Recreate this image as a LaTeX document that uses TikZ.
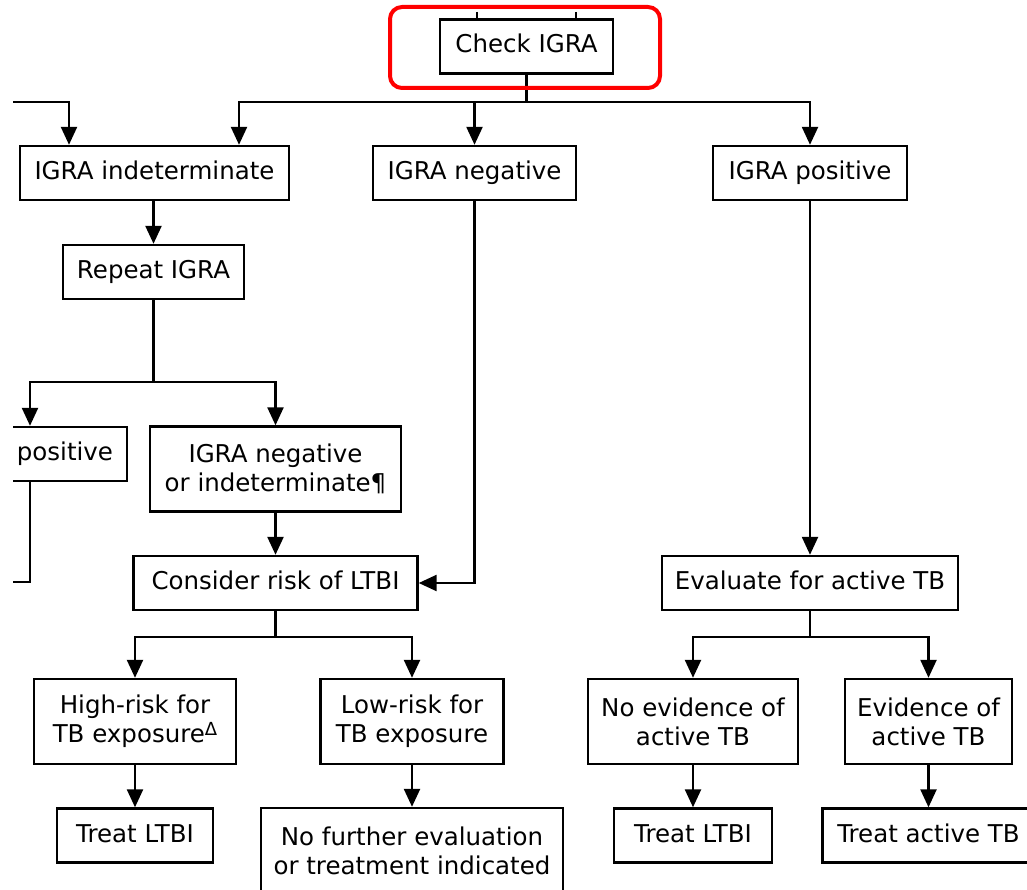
\documentclass[tikz,border=0pt]{standalone}
\usepackage{fontspec}
\setmainfont{DejaVu Sans}
\usetikzlibrary{arrows.meta}

\begin{document}
\begin{tikzpicture}[x=1pt, y=-1pt, line width=2.4pt,
    font=\fontsize{24.5}{29}\selectfont,
    >={Triangle[length=18pt, width=16pt]},
    box/.style={draw, fill=white, inner sep=0pt, minimum height=54pt,
      text height=18pt, text depth=5pt},
    tallbox/.style={draw, fill=white, inner sep=0pt, minimum height=85pt,
      align=center}]
  \useasboundingbox (0,0) rectangle (1027,890);
  \clip (13,0) rectangle (1027,890);

  \node[box, minimum width=173pt] (check) at (526.5,46.5) {Check IGRA};
  \node[box, minimum width=269pt] (indet) at (154.5,173) {IGRA indeterminate};
  \node[box, minimum width=203pt] (neg) at (474.5,173) {IGRA negative};
  \node[box, minimum width=194pt] (pos) at (810,173) {IGRA positive};
  \node[box, minimum width=181pt] (repeat) at (153.5,272) {Repeat IGRA};
  \node[box, text width=166pt, inner xsep=14pt, align=right] (rpos) at (30,454) {positive};
  \node[tallbox, minimum width=251pt] (rneg) at (275.5,469) {IGRA negative\\or indeterminate¶};
  \node[box, minimum width=284pt] (risk) at (275.5,583) {Consider risk of LTBI};
  \node[box, minimum width=296pt] (eval) at (810,583) {Evaluate for active TB};
  \node[tallbox, minimum width=202pt] (high) at (135,721.5) {High-risk for\\TB exposure\raisebox{0.55ex}{\fontsize{18}{18}\selectfont Δ}};
  \node[tallbox, minimum width=183pt] (low) at (412,721.5) {Low-risk for\\TB exposure};
  \node[tallbox, minimum width=210pt] (noev) at (693,721.5) {No evidence of\\active TB};
  \node[tallbox, minimum width=167pt] (ev) at (928.5,721.5) {Evidence of\\active TB};
  \node[box, minimum width=156pt] (treat1) at (135,835.5) {Treat LTBI};
  \node[tallbox, minimum width=302pt] (nofurther) at (412,850.5) {No further evaluation\\or treatment indicated};
  \node[box, minimum width=158pt] (treat2) at (693,835.5) {Treat LTBI};
  \node[box, minimum width=212pt] (treatTB) at (928.5,835.5) {Treat active TB};

  \coordinate (up1) at (477,12);
  \coordinate (up2) at (576,12);
  \coordinate (inL) at (0,102);
  \coordinate (outL) at (0,582);
  \coordinate (b1) at (526.5,102);
  \coordinate (b2) at (153.5,382);

  \draw (up1) -- (up1 |- check.north);
  \draw (up2) -- (up2 |- check.north);
  \draw[->] (inL) -| ([xshift=-85.5pt]indet.north);
  \draw (check.south) -- (b1);
  \draw[->] (b1) -| ([xshift=84.5pt]indet.north);
  \draw[->] (b1) -| (neg.north);
  \draw[->] (b1) -| (pos.north);

  \draw[->] (indet.south -| repeat) -- (repeat.north);
  \draw (repeat.south) -- (b2);
  \draw[->] (b2) -| (rpos.north);
  \draw[->] (b2) -| (rneg.north);
  \draw (rpos.south) |- (outL);
  \draw[->] (rneg.south) -- (risk.north);
  \draw[->] (neg.south) |- (risk.east);

  \draw (risk.south) -- ++(0,26) coordinate (b3);
  \draw[->] (b3) -| (high.north);
  \draw[->] (b3) -| (low.north);
  \draw[->] (high.south) -- (treat1.north);
  \draw[->] (low.south) -- (nofurther.north);

  \draw[->] (pos.south) -- (eval.north);
  \draw (eval.south) -- ++(0,26) coordinate (b4);
  \draw[->] (b4) -| (noev.north);
  \draw[->] (b4) -| (ev.north);
  \draw[->] (noev.south) -- (treat2.north);
  \draw[->] (ev.south) -- (treatTB.north);

  \draw[red, line width=4pt, rounded corners=12pt] (390,7) rectangle (660,88);
\end{tikzpicture}
\end{document}
